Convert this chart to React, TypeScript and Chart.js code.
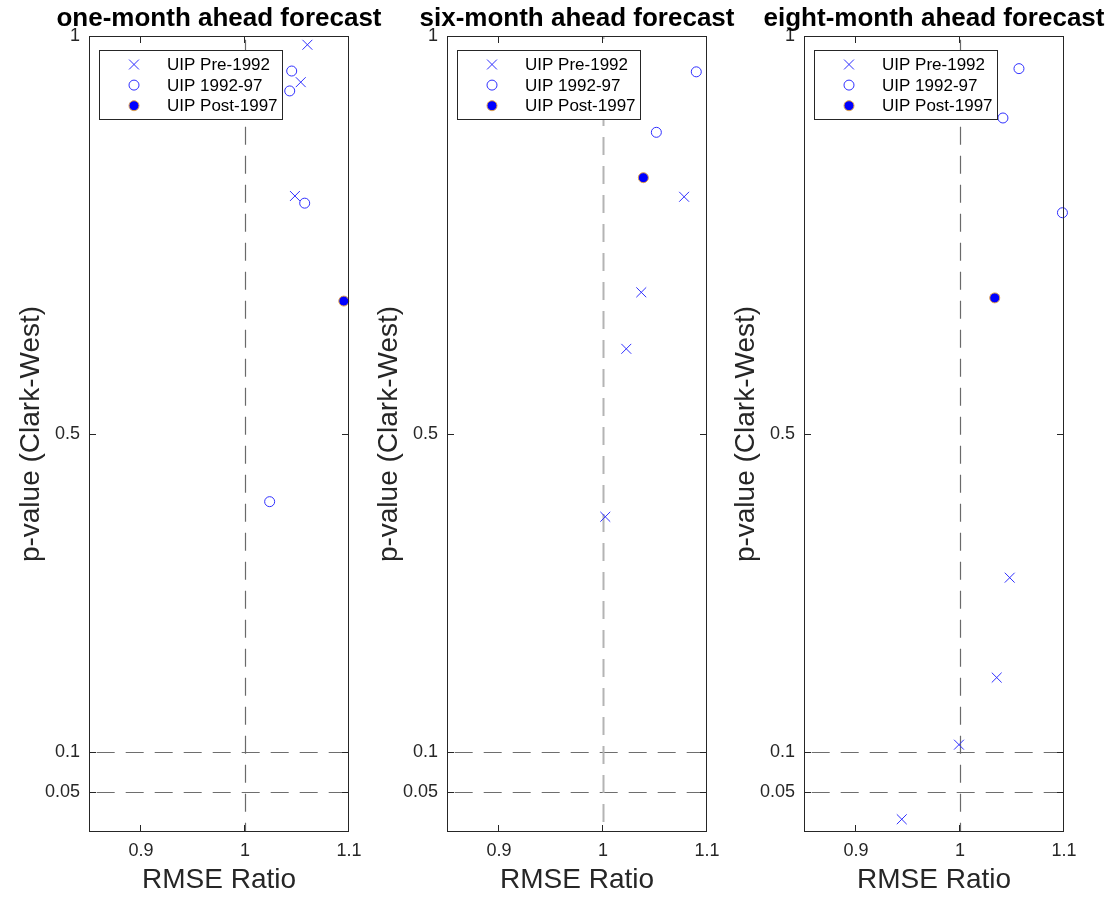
import React, { useEffect, useRef } from "react";
import { Chart, registerables } from "chart.js";

Chart.register(...registerables);

// ---------- data ----------
const PANEL_TITLES = [
  "one-month ahead forecast",
  "six-month ahead forecast",
  "eight-month ahead forecast",
];
const SERIES_LABELS = ["UIP Pre-1992", "UIP 1992-97", "UIP Post-1997"];
const X_TITLE = "RMSE Ratio";
const Y_TITLE = "p-value (Clark-West)";

const X_MIN = 0.85;
const X_MAX = 1.1;
const Y_MIN = 0;
const Y_MAX = 1;
const X_TICKS = [0.9, 1, 1.1];
const X_TICK_LABELS = ["0.9", "1", "1.1"];
const Y_TICKS = [0.05, 0.1, 0.5, 1];
const Y_TICK_LABELS = ["0.05", "0.1", "0.5", "1"];
const REF_X = [1];
const REF_Y = [0.1, 0.05];

// one-month ahead
const ONE_PRE_1992 = [
  { x: 1.06, y: 0.989 },
  { x: 1.0536, y: 0.942 },
  { x: 1.048, y: 0.799 },
];
const ONE_1992_97 = [
  { x: 1.0449, y: 0.956 },
  { x: 1.043, y: 0.931 },
  { x: 1.0574, y: 0.79 },
  { x: 1.0237, y: 0.415 },
];
const ONE_POST_1997 = [{ x: 1.095, y: 0.667 }];

// six-month ahead
const SIX_PRE_1992 = [
  { x: 1.078, y: 0.798 },
  { x: 1.0368, y: 0.678 },
  { x: 1.0224, y: 0.607 },
  { x: 1.0022, y: 0.396 },
];
const SIX_1992_97 = [
  { x: 1.0897, y: 0.955 },
  { x: 1.0513, y: 0.879 },
];
const SIX_POST_1997 = [{ x: 1.0388, y: 0.822 }];

// eight-month ahead
const EIGHT_PRE_1992 = [
  { x: 1.0478, y: 0.3195 },
  { x: 1.0353, y: 0.194 },
  { x: 0.999, y: 0.1097 },
  { x: 0.944, y: 0.016 },
];
const EIGHT_1992_97 = [
  { x: 1.0567, y: 0.959 },
  { x: 1.0413, y: 0.897 },
  { x: 1.0985, y: 0.778 },
];
const EIGHT_POST_1997 = [{ x: 1.0334, y: 0.671 }];

const PANEL_DATA = [
  [ONE_PRE_1992, ONE_1992_97, ONE_POST_1997],
  [SIX_PRE_1992, SIX_1992_97, SIX_POST_1997],
  [EIGHT_PRE_1992, EIGHT_1992_97, EIGHT_POST_1997],
];

// ---------- layout / style ----------
const W = 1117;
const H = 897;
const PLOT_LEFTS = [89, 447, 804];
const PLOT_W = 260;
const PLOT_TOP = 36;
const Y_AXIS_W = 89;
const X_AXIS_H = 65;
const FONT = "'Liberation Sans', Arial, Helvetica, sans-serif";
const AX_COLOR = "#262626";
const MARKER_BLUE = "#2f2fff";

const VLINE_STYLES = [
  { color: "#6a6a6a", width: 1.2, offset: 25.3 },
  { color: "#b4b4b4", width: 2, offset: 15 },
  { color: "#6a6a6a", width: 1.2, offset: 25.3 },
];

const SERIES_STYLES = [
  { pointStyle: "crossRot", radius: 7, fill: "rgba(0,0,0,0)", stroke: MARKER_BLUE, bw: 1 },
  { pointStyle: "circle", radius: 5, fill: "rgba(0,0,0,0)", stroke: MARKER_BLUE, bw: 1 },
  { pointStyle: "circle", radius: 5, fill: "#0000ff", stroke: "#e0a24a", bw: 1 },
];

function drawMarker(ctx: CanvasRenderingContext2D, st: any, x: number, y: number) {
  ctx.save();
  ctx.lineWidth = st.bw;
  ctx.strokeStyle = st.stroke;
  ctx.fillStyle = st.fill;
  ctx.beginPath();
  if (st.pointStyle === "crossRot") {
    const d = Math.cos(Math.PI / 4) * st.radius;
    ctx.moveTo(x - d, y - d);
    ctx.lineTo(x + d, y + d);
    ctx.moveTo(x + d, y - d);
    ctx.lineTo(x - d, y + d);
    ctx.stroke();
  } else {
    ctx.arc(x, y, st.radius, 0, Math.PI * 2);
    ctx.fill();
    ctx.stroke();
  }
  ctx.restore();
}

const decorPlugin = {
  id: "panelDecor",
  beforeDatasetsDraw(chart: any, _args: any, opts: any) {
    const { ctx, chartArea, scales } = chart;
    const { left, right, top, bottom } = chartArea;
    ctx.save();
    ctx.setLineDash([18, 11]);
    ctx.strokeStyle = "#6e6e6e";
    ctx.lineWidth = 1;
    ctx.lineDashOffset = 21.3;
    REF_Y.forEach((v) => {
      const py = Math.round(scales.y.getPixelForValue(v)) + 0.5;
      ctx.beginPath();
      ctx.moveTo(left, py);
      ctx.lineTo(right, py);
      ctx.stroke();
    });
    const vs = VLINE_STYLES[opts.index];
    ctx.strokeStyle = vs.color;
    ctx.lineWidth = vs.width;
    ctx.lineDashOffset = vs.offset;
    REF_X.forEach((v) => {
      const px = Math.round(scales.x.getPixelForValue(v)) + 0.5;
      ctx.beginPath();
      ctx.moveTo(px, top);
      ctx.lineTo(px, bottom);
      ctx.stroke();
    });
    ctx.restore();
  },
  afterDraw(chart: any, _args: any, opts: any) {
    const { ctx, chartArea, scales } = chart;
    const { left, right, top, bottom } = chartArea;
    ctx.save();
    // box
    ctx.strokeStyle = AX_COLOR;
    ctx.lineWidth = 1;
    ctx.setLineDash([]);
    ctx.strokeRect(left + 0.5, top + 0.5, right - left - 1, bottom - top - 1);
    // inward ticks
    const TL = 7;
    ctx.beginPath();
    X_TICKS.forEach((v) => {
      const px = Math.round(scales.x.getPixelForValue(v)) - 0.5;
      ctx.moveTo(px, bottom);
      ctx.lineTo(px, bottom - TL);
      ctx.moveTo(px, top);
      ctx.lineTo(px, top + TL);
    });
    Y_TICKS.forEach((v) => {
      const py = Math.round(scales.y.getPixelForValue(v)) + 0.5;
      ctx.moveTo(left, py);
      ctx.lineTo(left + TL, py);
      ctx.moveTo(right, py);
      ctx.lineTo(right - TL, py);
    });
    ctx.stroke();

    // title
    ctx.fillStyle = "#000";
    ctx.font = `bold 26px ${FONT}`;
    ctx.textAlign = "center";
    ctx.textBaseline = "alphabetic";
    ctx.fillText(opts.title, (left + right) / 2, 26);

    // legend
    const lx = left + 10;
    const ly = 50;
    const lw = 183;
    const lh = 69;
    ctx.fillStyle = "#ffffff";
    ctx.fillRect(lx, ly, lw, lh);
    ctx.strokeStyle = AX_COLOR;
    ctx.lineWidth = 1;
    ctx.strokeRect(lx + 0.5, ly + 0.5, lw, lh);
    ctx.font = `17px ${FONT}`;
    ctx.textAlign = "left";
    ctx.textBaseline = "middle";
    chart.data.datasets.forEach((ds: any, i: number) => {
      const ry = ly + 14.5 + i * 20.6;
      drawMarker(ctx, SERIES_STYLES[i], lx + 35, ry);
      ctx.fillStyle = "#000";
      ctx.fillText(ds.label, lx + 68, ry + 1);
    });
    ctx.restore();
  },
};

function Panel({ index }: { index: number }) {
  const ref = useRef<HTMLCanvasElement | null>(null);
  useEffect(() => {
    if (!ref.current) return;
    const L = PLOT_LEFTS[index];
    const datasets = PANEL_DATA[index].map((pts, i) => {
      const st = SERIES_STYLES[i];
      return {
        label: SERIES_LABELS[i],
        data: pts,
        showLine: false,
        pointStyle: st.pointStyle,
        pointRadius: st.radius,
        pointHoverRadius: st.radius,
        pointBorderWidth: st.bw,
        pointBackgroundColor: st.fill,
        pointBorderColor: st.stroke,
        backgroundColor: st.fill,
        borderColor: st.stroke,
        clip: false as any,
      };
    });
    const chart = new Chart(ref.current, {
      type: "scatter",
      data: { datasets },
      plugins: [decorPlugin],
      options: {
        responsive: false,
        animation: false,
        devicePixelRatio: 1,
        events: [],
        layout: {
          padding: {
            left: L - Y_AXIS_W,
            right: W - (L + PLOT_W),
            top: PLOT_TOP,
            bottom: 0,
          },
        },
        plugins: {
          legend: { display: false },
          title: { display: false },
          tooltip: { enabled: false },
          panelDecor: { index, title: PANEL_TITLES[index] },
        } as any,
        scales: {
          x: {
            type: "linear",
            min: X_MIN,
            max: X_MAX,
            afterBuildTicks: (s: any) => {
              s.ticks = X_TICKS.map((v) => ({ value: v }));
            },
            afterFit: (s: any) => {
              s.height = X_AXIS_H;
            },
            grid: { display: false, drawTicks: false },
            border: { display: false },
            ticks: {
              autoSkip: false,
              maxRotation: 0,
              padding: 8,
              color: AX_COLOR,
              font: { family: FONT, size: 18 },
              callback: (_v: any, i: number) => X_TICK_LABELS[i],
            },
            title: {
              display: true,
              text: X_TITLE,
              color: AX_COLOR,
              font: { family: FONT, size: 28 },
              padding: { top: 0, bottom: 0 },
            },
          },
          y: {
            type: "linear",
            min: Y_MIN,
            max: Y_MAX,
            afterBuildTicks: (s: any) => {
              s.ticks = Y_TICKS.map((v) => ({ value: v }));
            },
            afterFit: (s: any) => {
              s.width = Y_AXIS_W;
            },
            grid: { display: false, drawTicks: false },
            border: { display: false },
            ticks: {
              autoSkip: false,
              padding: 9,
              color: AX_COLOR,
              font: { family: FONT, size: 18 },
              callback: (_v: any, i: number) => Y_TICK_LABELS[i],
            },
            title: {
              display: true,
              text: Y_TITLE,
              color: AX_COLOR,
              font: { family: FONT, size: 28 },
              padding: { top: 14, bottom: 0 },
            },
          },
        },
      } as any,
    });
    return () => chart.destroy();
  }, [index]);
  return (
    <canvas
      ref={ref}
      width={W}
      height={H}
      style={{ position: "absolute", left: 0, top: 0, width: W, height: H }}
    />
  );
}

export default function App() {
  return (
    <div style={{ position: "absolute", left: 0, top: 0, width: W, height: H, background: "#fff" }}>
      {PANEL_TITLES.map((_t, i) => (
        <Panel key={i} index={i} />
      ))}
    </div>
  );
}
